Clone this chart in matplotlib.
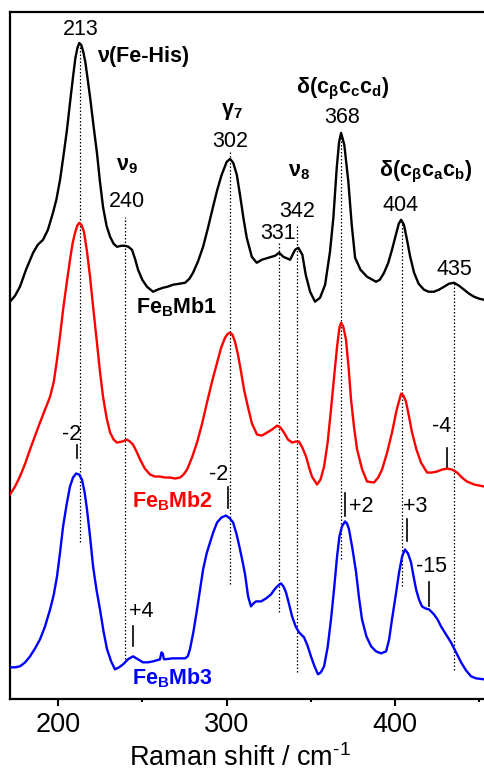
#! /usr/bin/env python3
""" Resonance Raman spectra of the FeBMb variants, low frequency region. """

import matplotlib
matplotlib.use('Agg')
import matplotlib.pyplot as plt

# spectra (wavenumber / cm-1, intensity in arb. units)
wn_mb1 = [171.5, 174.5, 177.4, 181.0, 185.2, 188.0, 191.1, 194.0, 197.0, 199.0,
          201.2, 203.3, 205.3, 207.1, 208.9, 210.3, 211.5, 212.6, 213.8, 215.0,
          216.2, 217.5, 219.0, 221.0, 223.1, 224.9, 226.7, 228.8, 230.9, 233.0,
          235.0, 237.5, 239.8, 241.8, 243.9, 245.7, 247.5, 250.0, 252.8, 256.4,
          259.0, 262.3, 265.0, 268.2, 272.0, 275.4, 278.0, 280.1, 283.0, 286.1,
          289.0, 292.0, 294.5, 297.1, 300.1, 302.1, 304.0, 306.1, 308.0, 310.0,
          312.0, 315.0, 317.9, 320.9, 324.8, 328.8, 331.2, 333.7, 337.7, 340.7,
          342.6, 345.0, 347.0, 349.6, 352.5, 355.5, 358.5, 361.4, 363.4, 365.4,
          366.8, 368.0, 369.9, 372.3, 374.3, 376.3, 379.5, 383.4, 388.7, 391.0,
          393.5, 396.0, 398.2, 400.5, 402.2, 403.6, 405.3, 407.1, 409.0, 411.3,
          414.0, 417.2, 420.0, 423.1, 426.0, 429.1, 432.0, 435.0, 438.0, 441.0,
          444.0, 446.9, 450.0, 452.8]
int_mb1 = [398, 404, 413, 430, 447, 455, 460, 470, 487, 500,
           520, 545, 570, 597, 623, 642, 652, 657, 655, 648,
           638, 622, 603, 575, 547, 518, 493, 474, 463, 456,
           453, 454, 454, 453, 450, 441, 430, 420, 413, 408,
           410, 412, 413, 415, 416, 417, 421, 427, 438, 453,
           472, 493, 510, 525, 538, 541, 537, 525, 505, 482,
           462, 443, 437, 440, 442, 444, 447, 443, 440, 450,
           452, 445, 425, 408, 398, 402, 415, 448, 482, 532,
           558, 567, 555, 518, 475, 442, 430, 423, 418, 420,
           427, 437, 450, 465, 476, 480, 475, 460, 443, 427,
           416, 410, 408, 408, 410, 413, 416, 417, 414, 410,
           406, 403, 401, 400]

wn_mb2 = [171.5, 174.5, 177.4, 180.5, 183.4, 186.4, 189.3, 192.3, 195.3, 197.5,
          199.4, 201.2, 203.0, 205.1, 207.1, 208.7, 210.1, 211.4, 212.6, 213.9,
          215.4, 217.2, 219.0, 221.0, 223.1, 224.9, 226.7, 228.8, 230.9, 233.0,
          235.0, 238.0, 240.9, 242.7, 244.5, 246.6, 248.7, 251.5, 254.6, 257.5,
          260.5, 263.5, 266.5, 269.5, 272.4, 274.5, 276.6, 279.5, 282.5, 285.5,
          288.4, 291.4, 294.4, 296.8, 299.1, 300.8, 302.1, 303.5, 305.0, 306.8,
          308.6, 310.4, 312.8, 315.1, 318.1, 321.0, 324.0, 327.0, 330.0, 332.0,
          334.1, 336.5, 338.9, 341.0, 343.0, 345.0, 347.2, 349.0, 350.7, 353.7,
          355.8, 357.9, 360.0, 362.0, 363.8, 365.6, 367.0, 368.0, 369.3, 370.9,
          372.4, 373.9, 375.7, 377.5, 380.5, 383.4, 387.5, 390.0, 392.3, 395.3,
          398.2, 401.0, 403.6, 405.0, 406.5, 408.3, 410.1, 412.7, 415.4, 419.0,
          422.0, 424.9, 428.0, 430.9, 433.8, 436.8, 439.7, 442.7, 447.0, 452.8]
int_mb2 = [205, 213, 223, 236, 250, 264, 277, 290, 303, 318,
           340, 364, 390, 416, 440, 457, 467, 474, 477, 475,
           468, 448, 423, 390, 357, 328, 303, 282, 267, 260,
           257, 258, 260, 258, 255, 248, 240, 231, 225, 223,
           223, 222, 222, 221, 222, 225, 230, 242, 257, 276,
           297, 318, 337, 352, 362, 366, 367, 365, 358, 345,
           328, 310, 292, 276, 265, 264, 267, 270, 274, 272,
           267, 260, 257, 258, 258, 252, 243, 232, 223, 215,
           220, 233, 257, 290, 322, 353, 372, 377, 373, 360,
           333, 300, 272, 250, 230, 218, 217, 222, 230, 247,
           267, 290, 306, 304, 298, 283, 267, 250, 237, 227,
           227, 228, 230, 231, 230, 227, 222, 218, 215, 213]

wn_mb3 = [171.5, 174.5, 177.4, 180.5, 183.4, 186.4, 189.3, 192.3, 195.3, 197.5,
          199.4, 201.2, 203.0, 205.1, 207.1, 208.9, 210.7, 212.5, 214.2, 215.8,
          217.2, 219.0, 220.8, 222.8, 224.9, 227.0, 229.1, 231.5, 233.8, 236.2,
          238.6, 241.5, 244.5, 247.5, 250.4, 253.4, 256.4, 260.5, 261.4, 262.1,
          262.9, 268.2, 275.4, 277.0, 278.3, 280.4, 282.5, 284.3, 286.1, 288.2,
          290.2, 292.3, 294.4, 297.0, 299.7, 302.0, 303.9, 306.0, 308.0, 309.5,
          311.0, 312.8, 314.5, 316.0, 317.5, 320.5, 323.5, 326.4, 328.5, 330.0,
          332.3, 333.8, 335.3, 337.0, 338.9, 341.0, 343.0, 346.0, 348.0, 350.1,
          352.2, 354.3, 356.0, 357.9, 360.0, 362.0, 363.8, 365.6, 367.0, 368.5,
          370.3, 371.5, 372.7, 374.8, 376.9, 378.6, 380.4, 383.0, 385.8, 388.7,
          391.7, 394.7, 396.5, 398.2, 400.3, 402.4, 404.2, 405.9, 407.7, 409.5,
          411.0, 412.5, 414.2, 416.0, 418.0, 420.2, 423.1, 425.2, 427.3, 430.2,
          433.2, 436.2, 439.2, 442.1, 445.1, 448.0, 452.8]
int_mb3 = [32, 32, 33, 37, 43, 51, 60, 73, 90, 105,
           123, 147, 173, 195, 213, 222, 226, 225, 220, 207,
           190, 163, 133, 110, 90, 68, 50, 38, 30, 32,
           35, 40, 43, 40, 37, 37, 38, 40, 47, 46,
           40, 41, 41, 43, 50, 68, 90, 110, 130, 146,
           157, 168, 177, 182, 184, 181, 177, 165, 150, 138,
           125, 103, 93, 96, 98, 98, 101, 105, 110, 113,
           116, 113, 107, 96, 83, 73, 67, 62, 54, 43,
           33, 25, 27, 33, 52, 80, 110, 143, 163, 173,
           178, 176, 170, 150, 127, 102, 80, 63, 53, 48,
           46, 48, 60, 80, 103, 127, 143, 150, 146, 137,
           123, 110, 100, 93, 91, 90, 85, 80, 73, 65,
           57, 47, 37, 29, 23, 21, 20]

# dotted guide lines: position and vertical extent
guide_pos = [213, 240, 302, 331, 342, 368, 404, 435]
guide_top = [657, 483, 548, 457, 475, 567, 478, 417]
guide_bot = [157, 40, 115, 87, 27, 140, 113, 29]

# peak labels of FeBMb1
peak_text = ['213', '240', '302', '331', '342', '368', '404', '435']
peak_x = [213.2, 240.8, 302.1, 330.3, 342.2, 368.4, 403.3, 435.4]
peak_y = [665, 493, 553, 461, 483, 577, 489, 425]

# band assignments
mode_text = [r'$\mathbf{\nu_9}$', r'$\mathbf{\gamma_7}$', r'$\mathbf{\nu_8}$',
             r'$\mathbf{\delta(c_{\beta}c_{c}c_{d})}$',
             r'$\mathbf{\delta(c_{\beta}c_{a}c_{b})}$']
mode_x = [241.0, 302.9, 343.0, 368.8, 418.4]
mode_y = [529, 585, 523, 607, 523]

# frequency shifts relative to FeBMb1
shift_text = ['-2', '-2', '+2', '+3', '-15', '+4', '-4']
shift_pos = [211.1, 300.7, 370.3, 406.9, 420.2, 244.7, 431.0]
shift_lo = [242, 192, 183, 158, 93, 53, 232]
shift_hi = [255, 213, 207, 180, 117, 73, 252]
shift_tx = [208.1, 295.4, 372.7, 411.9, 421.7, 249.4, 427.8]
shift_ty = [260, 220, 187, 187, 127, 82, 268]

names = [r'$\mathbf{Fe_{B}Mb1}$', r'$\mathbf{Fe_{B}Mb2}$', r'$\mathbf{Fe_{B}Mb3}$']
name_x = [270.6, 268.0, 268.0]
name_y = [386, 192, 15]
colors = ['black', '#ff0000', '#0000ff']


def main():
    """Draw the three stacked spectra and save out.png."""
    plt.rcParams['font.family'] = ['Liberation Sans', 'DejaVu Sans']
    plt.rcParams['mathtext.fontset'] = 'custom'
    plt.rcParams['mathtext.rm'] = 'Liberation Sans'
    plt.rcParams['mathtext.it'] = 'Liberation Sans:italic'
    plt.rcParams['mathtext.bf'] = 'Liberation Sans:bold'
    plt.rcParams['mathtext.sf'] = 'Liberation Sans'
    plt.rcParams['axes.unicode_minus'] = False

    fig = plt.figure(figsize=(4.84, 7.71), dpi=100)
    ax = fig.add_axes([10 / 484, 0.093, 1 - 10 / 484, 0.8914])

    for wn, inten, col in zip([wn_mb1, wn_mb2, wn_mb3],
                              [int_mb1, int_mb2, int_mb3], colors):
        ax.plot(wn, inten, color=col, lw=1.7, zorder=3,
                solid_joinstyle='round')

    for x, top, bot in zip(guide_pos, guide_top, guide_bot):
        ax.plot([x, x], [bot, top], color='black', lw=0.9,
                linestyle=(0, (1.2, 1.6)), zorder=2)

    for t, x, y in zip(peak_text, peak_x, peak_y):
        ax.text(x, y, t, fontsize=15.5, ha='center', va='baseline')

    ax.text(223.1, 638, 'ν(Fe-His)', fontsize=15.5, fontweight='bold',
            ha='left', va='baseline')
    for t, x, y in zip(mode_text, mode_x, mode_y):
        ax.text(x, y, t, fontsize=15.5, ha='center', va='baseline')

    for t, x, lo, hi, tx, ty in zip(shift_text, shift_pos, shift_lo, shift_hi,
                                    shift_tx, shift_ty):
        ax.plot([x, x], [lo, hi], color='black', lw=1.2, zorder=2)
        ha = 'left' if t == '+2' else 'center'
        ax.text(tx, ty, t, fontsize=15.5, ha=ha, va='baseline')

    for t, x, y, col in zip(names, name_x, name_y, colors):
        ax.text(x, y, t, fontsize=15.5, color=col, ha='center', va='baseline')

    ax.set_xlim(171.5, 452.8)
    ax.set_ylim(0, 688)
    ax.set_xticks([200, 300, 400])
    ax.set_xticks([250, 350, 450], minor=True)
    ax.set_yticks([])
    ax.tick_params(axis='x', which='major', direction='out', length=5,
                   width=1.5, labelsize=19.5, pad=4)
    ax.tick_params(axis='x', which='minor', direction='out', length=2.5,
                   width=1.5)
    ax.spines['right'].set_visible(False)
    for side in ['left', 'bottom', 'top']:
        ax.spines[side].set_linewidth(1.6)
    ax.set_xlabel(r'Raman shift / cm$^{\text{-1}}$', fontsize=19.5, labelpad=1)
    ax.xaxis.set_label_coords(0.485, -0.065)

    fig.savefig('out.png', dpi=100)


if __name__ == "__main__":
    main()
